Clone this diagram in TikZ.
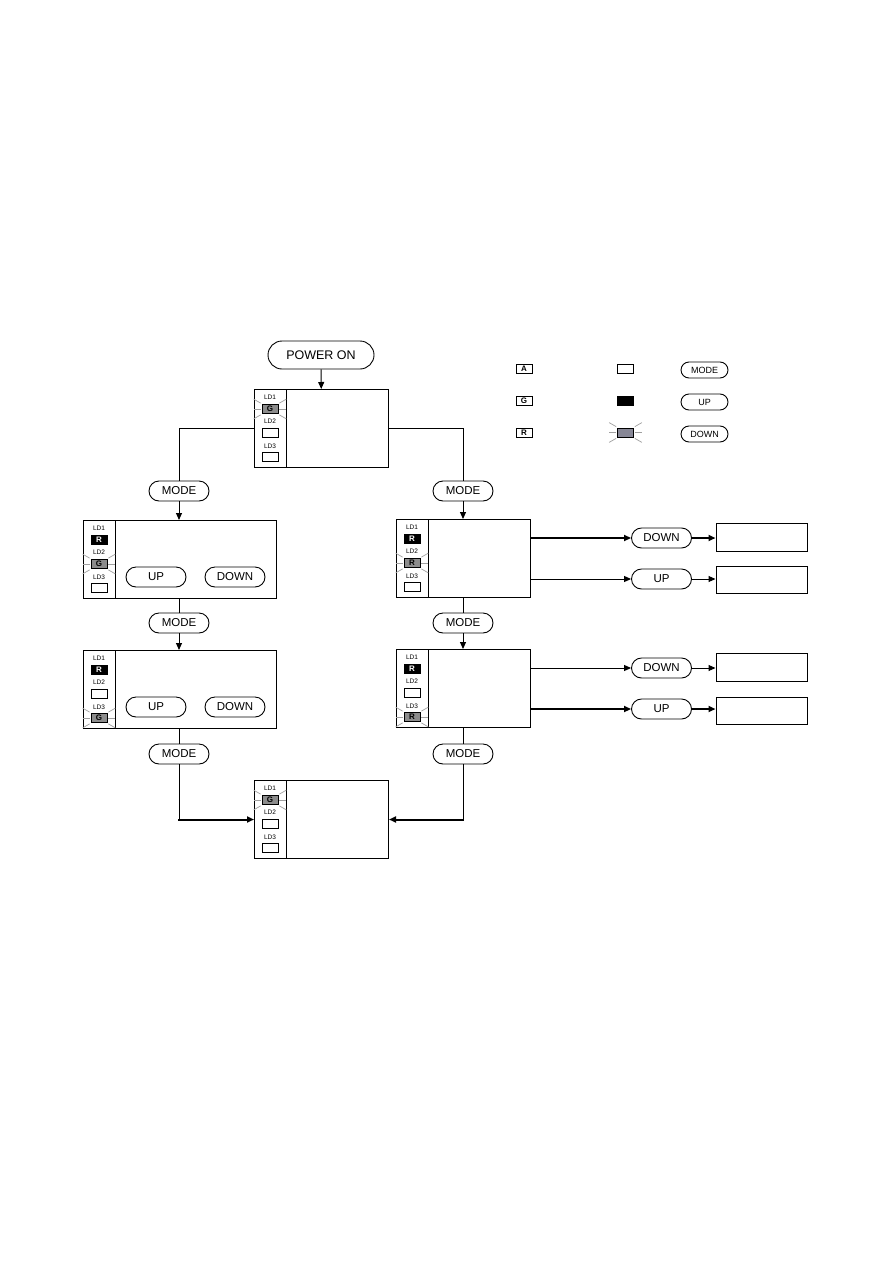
\documentclass[tikz,border=0pt]{standalone}
\usepackage{fontspec}
\setmainfont{Liberation Sans}
\usetikzlibrary{arrows.meta,calc,shapes.misc}
\tikzset{
  pill/.style={draw, line width=0.9pt, rounded rectangle, minimum width=60pt, minimum height=20pt, inner sep=0pt, font=\fontsize{11.5}{11.5}\selectfont},
  lpill/.style={pill, minimum width=47pt, minimum height=16pt, font=\fontsize{9}{9}\selectfont},
  panelbox/.style={draw, line width=1pt, minimum height=78pt, anchor=north west, inner sep=0pt},
  resbox/.style={draw, line width=1pt, minimum width=91pt, minimum height=28pt, inner sep=0pt},
  led/.style={draw, line width=0.8pt, minimum width=16pt, minimum height=9pt, inner sep=0pt, font=\fontsize{8}{8}\selectfont\bfseries},
  ledoff/.style={led, fill=white, node contents={}},
  ledonR/.style={led, fill=black, text=white, node contents={R}},
  ledblinkG/.style={led, fill={rgb,255:red,140;green,140;blue,140}, node contents={G}},
  ledblinkR/.style={led, fill={rgb,255:red,140;green,140;blue,140}, node contents={R}},
  ldlabel/.style={inner sep=0pt, font=\fontsize{6.5}{6.5}\selectfont},
  spk/.style={draw={rgb,255:red,160;green,160;blue,160}, line width=0.7pt},
  conn/.style={line width=1pt},
  arr/.style={line width=1pt, -{Triangle[length=7pt,width=6pt]}},
  arrthick/.style={line width=2pt, -{Triangle[length=7pt,width=6pt]}},
}
\newcommand\sparkle[1]{%
  \draw[spk] ($(#1.west)+(-1,0)$) -- ++(-7,0);
  \draw[spk] ($(#1.east)+(1,0)$) -- ++(7,0);
  \draw[spk] ($(#1.north west)+(-1,-1)$) -- ++(-7,-4);
  \draw[spk] ($(#1.south west)+(-1,1)$) -- ++(-7,4);
  \draw[spk] ($(#1.north east)+(1,-1)$) -- ++(7,-4);
  \draw[spk] ($(#1.south east)+(1,1)$) -- ++(7,4);
}
% name, x, y, width, led1, led2, led3
\newcommand\panel[7]{%
  \node[panelbox, minimum width=#4pt] (#1) at (#2,#3) {};
  \draw[conn] (#2+32,#3) -- (#2+32,#3+78);
  \node[ldlabel] (#1t1) at (#2+16,#3+8) {LD1};
  \node (#1l1) at (#2+16,#3+20) [#5];
  \node[ldlabel] (#1t2) at (#2+16,#3+32) {LD2};
  \node (#1l2) at (#2+16,#3+44) [#6];
  \node[ldlabel] (#1t3) at (#2+16,#3+57) {LD3};
  \node (#1l3) at (#2+16,#3+68) [#7];
}
\begin{document}
\begin{tikzpicture}[x=1pt,y=-1pt]
\fill[white] (0,0) rectangle (893,1263);
\useasboundingbox (0,0) rectangle (893,1263);

% power on
\node[pill, minimum width=106pt, minimum height=28pt, font=\fontsize{12.5}{12.5}\selectfont] (pw) at (321,355) {POWER ON};

% panels
\panel{top}{254}{389}{134}{ledblinkG}{ledoff}{ledoff}
\sparkle{topl1}
\panel{pa}{83}{520}{193}{ledonR}{ledblinkG}{ledoff}
\sparkle{pal2}
\panel{pb}{83}{650}{193}{ledonR}{ledoff}{ledblinkG}
\sparkle{pbl3}
\panel{ra}{396}{519}{134}{ledonR}{ledblinkR}{ledoff}
\sparkle{ral2}
\panel{rb}{396}{649}{134}{ledonR}{ledoff}{ledblinkR}
\sparkle{rbl3}
\panel{bot}{254}{780}{134}{ledblinkG}{ledoff}{ledoff}
\sparkle{botl1}

% UP/DOWN inside left panels
\node[pill] (paup) at (156,577) {UP};
\node[pill] (padn) at (235,577) {DOWN};
\node[pill] (pbup) at (156,707) {UP};
\node[pill] (pbdn) at (235,707) {DOWN};

% MODE pills
\node[pill] (m1) at (179,491) {MODE};
\node[pill] (m2) at (179,623) {MODE};
\node[pill] (m3) at (179,754) {MODE};
\node[pill] (m4) at (463,491) {MODE};
\node[pill] (m5) at (463,623) {MODE};
\node[pill] (m6) at (463,754) {MODE};

% right branch pills and result boxes
\node[pill] (d1) at (661.5,538) {DOWN};
\node[pill] (u1) at (661.5,579) {UP};
\node[pill] (d2) at (661.5,668) {DOWN};
\node[pill] (u2) at (661.5,709) {UP};
\node[resbox] (res1) at (761.5,537) {};
\node[resbox, minimum height=27pt] (res2) at (761.5,579.5) {};
\node[resbox] (res3) at (761.5,667) {};
\node[resbox, minimum height=27pt] (res4) at (761.5,710.5) {};

% connectors
\draw[arr] (pw) -- (top);
\draw[conn] (top.west) -| (m1.north);
\draw[conn] (top.east) -| (m4.north);
\draw[arr] (m1.south) -- (m1 |- pa.north);
\draw[conn] (m1 |- pa.south) -- (m2.north);
\draw[arr] (m2.south) -- (m2 |- pb.north);
\draw[conn] (m2 |- pb.south) -- (m3.north);
\coordinate (cl) at (m3 |- bot.west);
\draw[conn] (m3.south) -- (cl);
\draw[arrthick] ([xshift=-1pt]cl) -- (bot.west);

\draw[arr] (m4.south) -- (m4 |- ra.north);
\draw[conn] (m4 |- ra.south) -- (m5.north);
\draw[arr] (m5.south) -- (m5 |- rb.north);
\draw[conn] (m5 |- rb.south) -- (m6.north);
\coordinate (cr) at (m6 |- bot.east);
\draw[conn] (m6.south) -- (cr);
\draw[arrthick] ([xshift=1pt]cr) -- (bot.east);

\draw[arrthick] (ra.east |- d1) -- (d1.west);
\draw[arrthick] (d1.east) -- (d1.east -| res1.west);
\draw[arr] (ra.east |- u1) -- (u1.west);
\draw[arr] (u1.east) -- (u1.east -| res2.west);
\draw[arr] (rb.east |- d2) -- (d2.west);
\draw[arr] (d2.east) -- (d2.east -| res3.west);
\draw[arrthick] (rb.east |- u2) -- (u2.west);
\draw[arrthick] (u2.east) -- (u2.east -| res4.west);

% legend
\node[led, fill=white, text=black] (lgA) at (524,369) {A};
\node[led, fill=white, text=black] (lgG) at (524,400.5) {G};
\node[led, fill=white, text=black] (lgR) at (524,433) {R};
\node[led, fill=white] (lgoff) at (625.5,369) {};
\node[led, fill=black] (lgon) at (625.5,401) {};
\node[led, fill={rgb,255:red,135;green,135;blue,150}] (lgbl) at (625.5,432.5) {};
\sparkle{lgbl}
\node[lpill] (lgm) at (704.5,370) {MODE};
\node[lpill] (lgu) at (704.5,402) {UP};
\node[lpill] (lgd) at (704.5,434) {DOWN};
\end{tikzpicture}
\end{document}
